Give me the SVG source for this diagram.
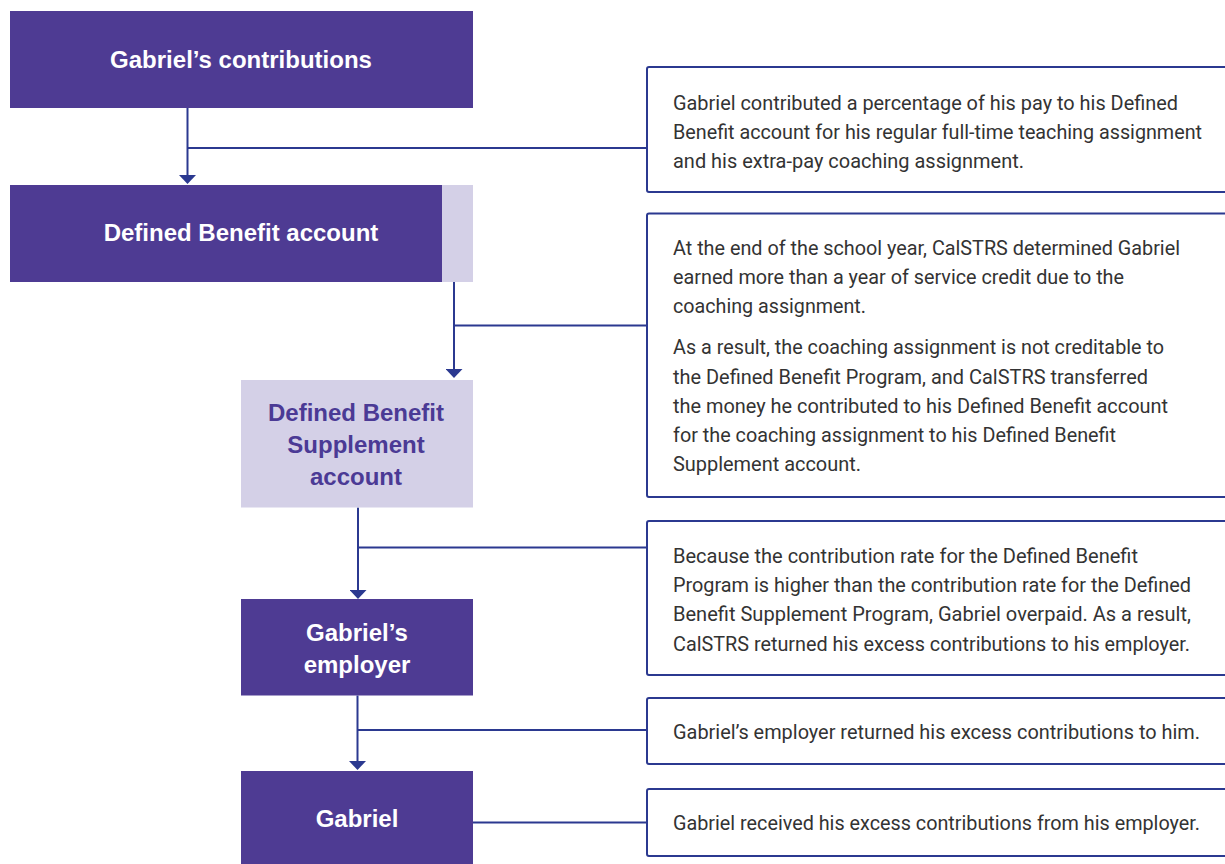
<svg xmlns="http://www.w3.org/2000/svg" width="1225" height="864" viewBox="0 0 1225 864">
<style>
.dark{fill:#4E3B93}
.light{fill:#D4D0E7}
.bt{font-family:"Liberation Sans",Arial,sans-serif;font-weight:bold;font-size:24px;text-anchor:middle}
.wt{fill:#FFFFFF}
.pt{fill:#4B3A95}
.co{fill:#FFFFFF;stroke:#2B3990;stroke-width:2}
.ct{font-family:Roboto,"Liberation Sans",sans-serif;font-size:20px;fill:#333333}
.ln{fill:none;stroke:#2B3990;stroke-width:2}
</style>
<defs>
<marker id="ah" viewBox="0 0 9 17" refX="6" refY="8.5" markerWidth="9" markerHeight="17" markerUnits="userSpaceOnUse" orient="auto">
<path d="M0,0 L9,8.5 L0,17 z" fill="#2B3990"/>
</marker>
</defs>
<rect width="1225" height="864" fill="#FFFFFF"/>

<g id="connectors">
<line class="ln" x1="187.5" y1="108" x2="187.5" y2="181" marker-end="url(#ah)"/>
<line class="ln" x1="187.5" y1="148" x2="647" y2="148"/>
<line class="ln" x1="454" y1="282" x2="454" y2="375" marker-end="url(#ah)"/>
<line class="ln" x1="454" y1="325.5" x2="647" y2="325.5"/>
<line class="ln" x1="358" y1="507.5" x2="358" y2="596" marker-end="url(#ah)"/>
<line class="ln" x1="358" y1="547.5" x2="647" y2="547.5"/>
<line class="ln" x1="357.5" y1="695.5" x2="357.5" y2="767" marker-end="url(#ah)"/>
<line class="ln" x1="357.5" y1="730" x2="647" y2="730"/>
<line class="ln" x1="473" y1="822.5" x2="647" y2="822.5"/>
</g>

<g id="node-contributions">
<rect class="dark" x="10" y="11" width="463" height="97"/>
<text class="bt wt" x="241" y="68">Gabriel’s contributions</text>
</g>

<g id="node-db-account">
<rect class="dark" x="10" y="185" width="432" height="97"/>
<rect class="light" x="442" y="185" width="31" height="97"/>
<text class="bt wt" x="241" y="241">Defined Benefit account</text>
</g>

<g id="node-dbs-account">
<rect class="light" x="241" y="380" width="232" height="127.5"/>
<text class="bt pt" x="356" y="421">Defined Benefit</text>
<text class="bt pt" x="356" y="453">Supplement</text>
<text class="bt pt" x="356" y="485">account</text>
</g>

<g id="node-employer">
<rect class="dark" x="241" y="599" width="232" height="96.5"/>
<text class="bt wt" x="357" y="641">Gabriel’s</text>
<text class="bt wt" x="357" y="673">employer</text>
</g>

<g id="node-gabriel">
<rect class="dark" x="241" y="771" width="232" height="93"/>
<text class="bt wt" x="357" y="827">Gabriel</text>
</g>

<g id="note-1">
<rect class="co" x="647" y="67" width="600" height="125" rx="2"/>
<text class="ct" x="673" y="109.5" textLength="505" lengthAdjust="spacingAndGlyphs">Gabriel contributed a percentage of his pay to his Defined</text>
<text class="ct" x="673" y="138.5" textLength="529" lengthAdjust="spacingAndGlyphs">Benefit account for his regular full-time teaching assignment</text>
<text class="ct" x="673" y="167.5" textLength="351" lengthAdjust="spacingAndGlyphs">and his extra-pay coaching assignment.</text>
</g>

<g id="note-2">
<rect class="co" x="647" y="213.5" width="600" height="283.5" rx="2"/>
<text class="ct" x="673" y="255" textLength="507" lengthAdjust="spacingAndGlyphs">At the end of the school year, CalSTRS determined Gabriel</text>
<text class="ct" x="673" y="284" textLength="451" lengthAdjust="spacingAndGlyphs">earned more than a year of service credit due to the</text>
<text class="ct" x="673" y="312.5" textLength="193" lengthAdjust="spacingAndGlyphs">coaching assignment.</text>
<text class="ct" x="673" y="354" textLength="491" lengthAdjust="spacingAndGlyphs">As a result, the coaching assignment is not creditable to</text>
<text class="ct" x="673" y="383.5" textLength="475" lengthAdjust="spacingAndGlyphs">the Defined Benefit Program, and CalSTRS transferred</text>
<text class="ct" x="673" y="412.5" textLength="495" lengthAdjust="spacingAndGlyphs">the money he contributed to his Defined Benefit account</text>
<text class="ct" x="673" y="441.5" textLength="443" lengthAdjust="spacingAndGlyphs">for the coaching assignment to his Defined Benefit</text>
<text class="ct" x="673" y="470.5" textLength="188" lengthAdjust="spacingAndGlyphs">Supplement account.</text>
</g>

<g id="note-3">
<rect class="co" x="647" y="521" width="600" height="154" rx="2"/>
<text class="ct" x="673" y="562.5" textLength="465" lengthAdjust="spacingAndGlyphs">Because the contribution rate for the Defined Benefit</text>
<text class="ct" x="673" y="591.5" textLength="518" lengthAdjust="spacingAndGlyphs">Program is higher than the contribution rate for the Defined</text>
<text class="ct" x="673" y="620.5" textLength="518" lengthAdjust="spacingAndGlyphs">Benefit Supplement Program, Gabriel overpaid. As a result,</text>
<text class="ct" x="673" y="650.5" textLength="517" lengthAdjust="spacingAndGlyphs">CalSTRS returned his excess contributions to his employer.</text>
</g>

<g id="note-4">
<rect class="co" x="647" y="698" width="600" height="66" rx="2"/>
<text class="ct" x="673" y="738.5" textLength="527" lengthAdjust="spacingAndGlyphs">Gabriel’s employer returned his excess contributions to him.</text>
</g>

<g id="note-5">
<rect class="co" x="647" y="789" width="600" height="67" rx="2"/>
<text class="ct" x="673" y="830" textLength="527" lengthAdjust="spacingAndGlyphs">Gabriel received his excess contributions from his employer.</text>
</g>
</svg>
